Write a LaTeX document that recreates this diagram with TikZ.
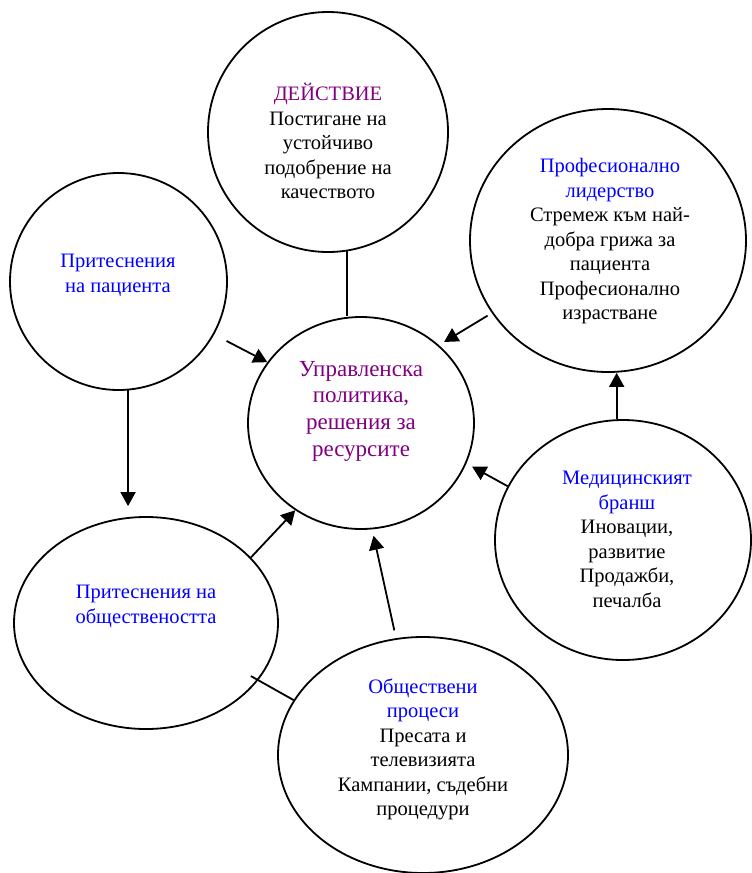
\documentclass[tikz,border=0pt]{standalone}
\usepackage{fontspec}
\setmainfont{Liberation Serif}
\usetikzlibrary{shapes.geometric,arrows.meta}
\definecolor{headblue}{RGB}{0,0,255}
\definecolor{headviolet}{RGB}{128,0,128}

\begin{document}
\begin{tikzpicture}[x=1pt,y=-1pt,
  bubble/.style={draw, ellipse, line width=1.8pt, inner sep=0pt},
  bubbletext/.style={align=center, inner sep=0pt, font=\fontsize{20.5}{24.5}\selectfont},
  coretext/.style={align=center, inner sep=0pt, text=headviolet, font=\fontsize{23}{26.7}\selectfont},
  link/.style={line width=1.8pt},
  flow/.style={link, -{Triangle[length=14pt,width=15pt]}}]

\useasboundingbox (0,0) rectangle (752,873);

% ellipses
\node[bubble, minimum width=240pt, minimum height=240pt] (act)  at (328,132)   {};
\node[bubble, minimum width=276pt, minimum height=263pt] (lead) at (608,240.5) {};
\node[bubble, minimum width=217pt, minimum height=217pt] (pat)  at (118.5,281.5) {};
\node[bubble, minimum width=226pt, minimum height=212pt] (core) at (361,423)   {};
\node[bubble, minimum width=264pt, minimum height=212pt] (soc)  at (146,623)   {};
\node[bubble, minimum width=256pt, minimum height=240pt] (med)  at (623,540)   {};
\node[bubble, minimum width=290pt, minimum height=236pt] (pub)  at (423,755)   {};

% texts
\node[bubbletext] (actT) at (328,141)
  {\textcolor{headviolet}{ДЕЙСТВИЕ}\\Постигане на\\устойчиво\\подобрение на\\качеството};
\node[bubbletext] (leadT) at (610,241.5)
  {\textcolor{headblue}{Професионално}\\\textcolor{headblue}{лидерство}\\Стремеж към най-\\добра грижа за\\пациента\\Професионално\\израстване};
\node[bubbletext, text=headblue] (patT) at (118,275.5)
  {Притеснения\\на пациента};
\node[coretext] (coreT) at (361,411)
  {Управленска\\политика,\\решения за\\ресурсите};
\node[bubbletext] (medT) at (627,539.5)
  {\textcolor{headblue}{Медицинският}\\\textcolor{headblue}{бранш}\\Иновации,\\развитие\\Продажби,\\печалба};
\node[bubbletext, text=headblue] (socT) at (146,606.5)
  {Притеснения на\\обществеността};
\node[bubbletext] (pubT) at (423,749.5)
  {\textcolor{headblue}{Обществени}\\\textcolor{headblue}{процеси}\\Пресата и\\телевизията\\Кампании, съдебни\\процедури};

% connectors
\draw[flow, shorten <=14pt] (pat.-29.6) -- (core.147.2);
\draw[flow, shorten >=10pt] (pat.-85) -- (pat.-85 |- soc.north);
\draw[flow] (soc.32.6) -- (core.233.7);
\draw[flow, shorten <=8pt, shorten >=6.5pt] (pub.103.6) -- (core.-84.4);
\draw[flow, shorten >=6.5pt] (med.155.3) -- (core.-21.8);
\draw[flow] (med.93.8) -- (med.93.8 |- lead.south);
\draw[flow, shorten <=5pt, shorten >=6pt] (lead.212.7) -- (core.45.35);
\draw[link] (act.-81.86) -- (act.-81.86 |- core.north);
\draw[link, shorten <=-8.5pt] (soc.-27.7) -- (pub.157.1);
\end{tikzpicture}
\end{document}
